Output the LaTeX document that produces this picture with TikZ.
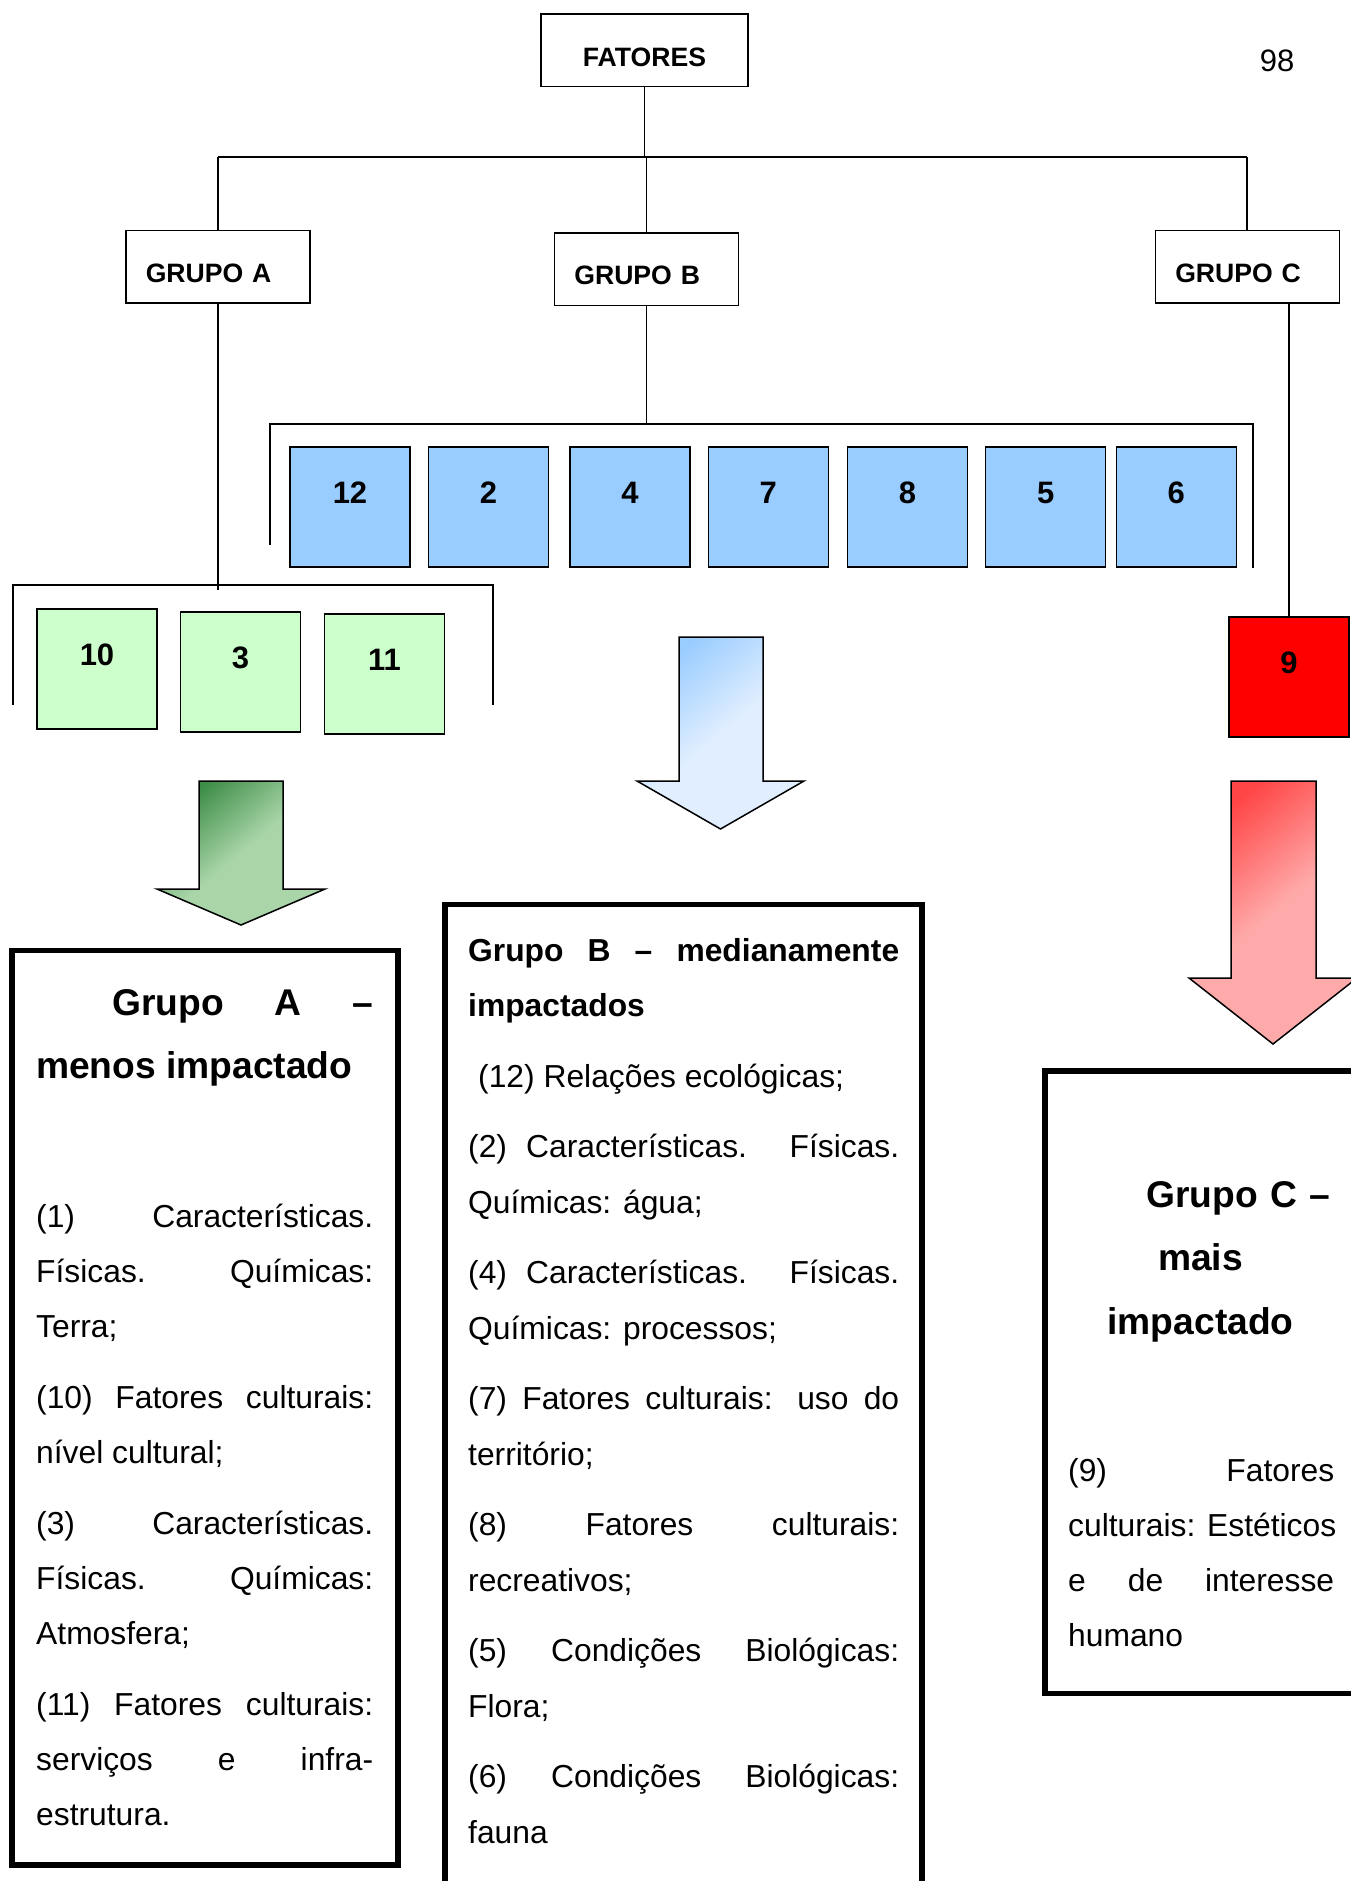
\documentclass[tikz,border=0pt]{standalone}
\usepackage{fontspec}
\setmainfont{Liberation Sans}
\usepackage {tikz}
\usetikzlibrary {positioning}

\definecolor{boxblue}{HTML}{99CCFF}
\definecolor{boxgreen}{HTML}{CCFFCC}
\definecolor{boxred}{HTML}{FF0000}
\definecolor{gdark}{HTML}{3C8C46}
\definecolor{glight}{HTML}{A9D5A9}
\definecolor{bdark}{HTML}{99CCFF}
\definecolor{blight}{HTML}{E0EEFF}
\definecolor{rdark}{HTML}{FF4545}
\definecolor{rlight}{HTML}{FFAAAA}

\tikzset{
  grp/.style={draw, line width=1.5pt, inner xsep=20pt, inner ysep=0pt, text width=144pt,
    text height=52pt, text depth=20.5pt, font=\fontsize{26.6}{30}\selectfont\bfseries},
  num/.style={draw, line width=1.5pt, inner sep=0pt, minimum width=120pt, anchor=north,
    text height=57pt, text depth=63pt, font=\fontsize{31}{34}\selectfont\bfseries},
  link/.style={line width=1.6pt},
  bracket/.style={line width=2pt},
  txtbox/.style={line width=5.5pt},
  arrowfill/.style 2 args={draw, line width=1.5pt, top color=#1, bottom color=#2,
    middle color=#2, shading angle=40},
  body/.style={inner sep=0pt, anchor=base west, align=justify,
    font=\fontsize{31.8}{55.2}\selectfont},
  head/.style={inner sep=0pt, anchor=base west, align=justify,
    font=\fontsize{37.2}{63.5}\selectfont\bfseries},
}

\begin{document}
\begin{tikzpicture}[x=1pt,y=-1pt]
\useasboundingbox (0,0) rectangle (1350,1881);

\node[draw, line width=1.5pt, inner sep=0pt, text width=207pt, align=center, anchor=north,
  text height=52pt, text depth=20.5pt, font=\fontsize{26.6}{30}\selectfont\bfseries]
  (Fat) at (644.5,13.4) {FATORES};
\node[anchor=base, font=\fontsize{31}{34}\selectfont] (pg) at (1277,72) {98};

\node[grp, anchor=north west] (GrpA) at (125,229.6) {GRUPO A};
\node[grp, anchor=north west] (GrpB) at (553.6,232) {GRUPO B};
\node[grp, anchor=north west] (GrpC) at (1154.5,229.6) {GRUPO C};

\coordinate (hL) at (GrpA.north |- 0,157);
\coordinate (hR) at (GrpC.north |- 0,157);
\draw[link] (hL) -- (hR);
\draw[link] (Fat.south) -- (Fat.south |- hL);
\draw[link] (hL) -- (GrpA.north);
\draw[link] (GrpB.north |- hL) -- (GrpB.north);
\draw[link] (hR) -- (GrpC.north);

\path (350,446) node[num, fill=boxblue] (b12) {12}
++(138.5,0) node[num, fill=boxblue] (b2) {2}
++(141.5,0) node[num, fill=boxblue] (b4) {4}
++(138.3,0) node[num, fill=boxblue] (b7) {7}
++(139.2,0) node[num, fill=boxblue] (b8) {8}
++(138.2,0) node[num, fill=boxblue] (b5) {5}
++(130.6,0) node[num, fill=boxblue] (b6) {6};

\path (97,608) node[num, fill=boxgreen] (g10) {10}
++(143.5,3) node[num, fill=boxgreen] (g3) {3}
++(144,2) node[num, fill=boxgreen] (g11) {11};

\node[num, fill=boxred] (r9) at (1289,616) {9};

\coordinate (brB) at (647.5,424);
\draw[bracket] (269.5,545) |- (1252.7,424) -- (1252.7,567.6);
\draw[link] (GrpB.south) -- (GrpB.south |- brB);

\coordinate (brA) at (216.5,590);
\draw[bracket] (13,705) |- (492.5,585) -- (492.5,705);
\draw[link] (GrpA.south) -- (GrpA.south |- brA);

\draw[link] (r9.north) -- (r9.north |- GrpC.south);

\path[arrowfill={gdark}{glight}] (199,781) -- (283,781) -- (283,889) -- (325,889)
  -- (241,925) -- (157,889) -- (199,889) -- cycle;
\path[arrowfill={bdark}{blight}] (679,637) -- (763,637) -- (763,781) -- (804,781)
  -- (720.5,829) -- (637,781) -- (679,781) -- cycle;
\path[arrowfill={rdark}{rlight}] (1231,781) -- (1316,781) -- (1316,978) -- (1357,978)
  -- (1273,1044) -- (1189,978) -- (1231,978) -- cycle;

\draw[txtbox] (12,950.5) rectangle (398,1865);
\draw[txtbox] (445,904.5) rectangle (922,1895);
\draw[txtbox] (1045,1071) rectangle (1370,1693.5);

\node[head, text width=337pt] (hA) at (36,1015) {\hspace*{76pt}Grupo A –\linebreak menos impactado};
\node[body, text width=337pt] (tA) at (36,1227) {\setlength{\parskip}{15.6pt}%
(1) Características.\linebreak Físicas. Químicas:\linebreak Terra;\par
(10) Fatores culturais:\linebreak nível cultural;\par
(3) Características.\linebreak Físicas. Químicas:\linebreak Atmosfera;\par
(11) Fatores culturais:\linebreak serviços e infra-\linebreak estrutura.};

\node[body, text width=431pt] (tB) at (468,961) {\setlength{\parskip}{15.6pt}%
{\bfseries Grupo B – medianamente\linebreak impactados}\par
\hspace*{10pt}(12) Relações ecológicas;\par
(2) Características. Físicas.\linebreak Químicas: água;\par
(4) Características. Físicas.\linebreak Químicas: processos;\par
(7) Fatores culturais: uso do\linebreak território;\par
(8) Fatores culturais:\linebreak recreativos;\par
(5) Condições Biológicas:\linebreak Flora;\par
(6) Condições Biológicas:\linebreak fauna};

\node[head, text width=265pt, align=center, anchor=base] (hC) at (1200.5,1207)
  {\hspace*{76pt}Grupo C –\\ mais\\ impactado};
\node[body, text width=266pt] (tC) at (1068,1481)
  {(9) Fatores\linebreak \mbox{culturais: Estéticos}\linebreak e de interesse\linebreak humano};
\end{tikzpicture}
\end{document}
